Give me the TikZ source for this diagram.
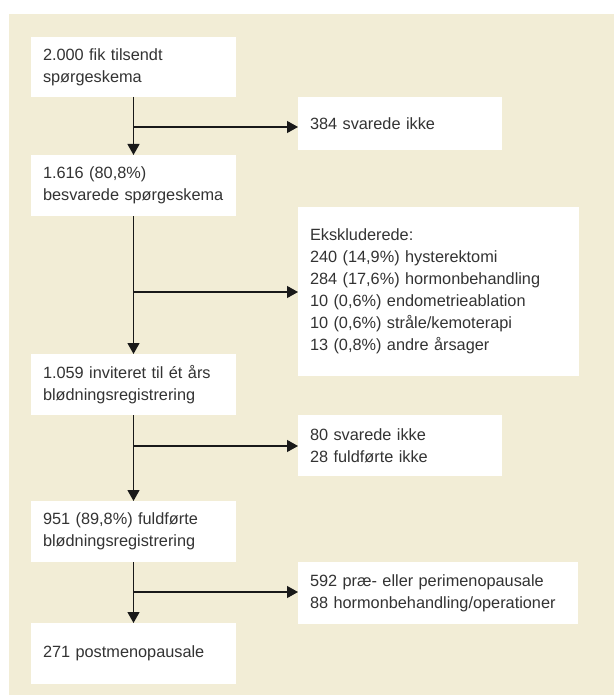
\documentclass[tikz,border=0pt]{standalone}
\usepackage{fontspec}
\setmainfont{Liberation Sans}
\usetikzlibrary{arrows.meta}
\definecolor{panel}{HTML}{F2EDD6}
\definecolor{ink}{HTML}{333333}
\tikzstyle{box} = [fill=white, anchor=north west, align=left, inner xsep=12pt, inner ysep=0pt, outer sep=0pt, text=ink, font=\fontsize{16.3}{22}\selectfont]
\tikzstyle{arr} = [-{Triangle[length=11pt,width=12pt]}, line width=1.2pt, draw=black!90]

\begin{document}
\begin{tikzpicture}[x=1pt,y=-1pt]
      \useasboundingbox (0,0) rectangle (614,695);
      \fill[panel] (9,14) rectangle (614,695);
      \node[box, text width=181pt, minimum height=60pt] (a) at (31,37) {2.000 fik tilsendt\\spørgeskema};
      \node[box, text width=181pt, minimum height=61pt] (b) at (31,155) {1.616 (80,8\%)\\besvarede spørgeskema};
      \node[box, text width=181pt, minimum height=61pt] (c) at (31,354) {1.059 inviteret til ét års\\blødningsregistrering};
      \node[box, text width=181pt, minimum height=61pt] (d) at (31,501) {951 (89,8\%) fuldførte\\blødningsregistrering};
      \node[box, text width=181pt, minimum height=61pt] (e) at (31,623) {271 postmenopausale};
      \node[box, text width=180pt, minimum height=53pt] (p) at (298,97) {384 svarede ikke};
      \node[box, text width=257pt, minimum height=169pt] (q) at (298,207) {Ekskluderede:\\240 (14,9\%) hysterektomi\\284 (17,6\%) hormonbehandling\\10 (0,6\%) endometrieablation\\10 (0,6\%) stråle/kemoterapi\\13 (0,8\%) andre årsager};
      \node[box, text width=180pt, minimum height=61pt] (r) at (298,415) {80 svarede ikke\\28 fuldførte ikke};
      \node[box, text width=256pt, minimum height=62pt] (s) at (298,562) {592 præ- eller perimenopausale\\88 hormonbehandling/operationer};
      \coordinate (1) at (133.5,127);
      \coordinate (2) at (133.5,292);
      \coordinate (3) at (133.5,446);
      \coordinate (4) at (133.5,592);
      \draw[arr] (a) -- (b);
      \draw[arr] (b) -- (c);
      \draw[arr] (c) -- (d);
      \draw[arr] (d) -- (e);
      \draw[arr] (1) -- (1 -| p.west);
      \draw[arr] (2) -- (2 -| q.west);
      \draw[arr] (3) -- (3 -| r.west);
      \draw[arr] (4) -- (4 -| s.west);
    \end{tikzpicture}
\end{document}
